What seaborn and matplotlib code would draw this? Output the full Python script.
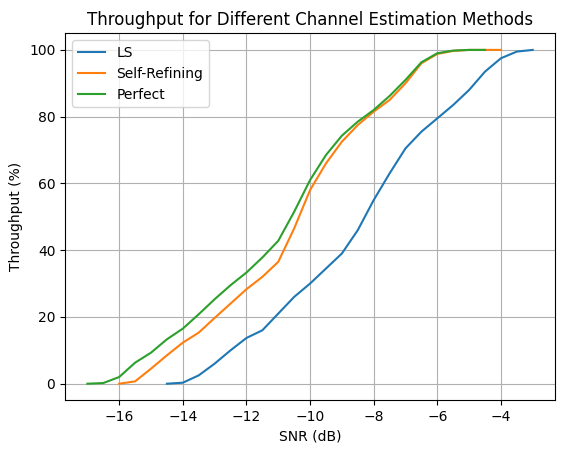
import matplotlib
matplotlib.use("Agg")
import matplotlib.pyplot as plt
import seaborn as sns
import numpy as np

ls_snr = [-14.5,-14,-13.5,-13,-12.5,-12,-11.5,-11,-10.5,-10,-9.5,-9,-8.5,-8,-7.5,-7,-6.5,-6,-5.5,-5,-4.5,-4,-3.5,-3]
ls_tp = [0,0.3,2.5,6,10,13.7,16,21,26,30,34.5,39,46,55,63,70.5,75.5,79.5,83.5,88,93.5,97.5,99.5,100]
sr_snr = [-16,-15.5,-15,-14.5,-14,-13.5,-13,-12.5,-12,-11.5,-11,-10.5,-10,-9.5,-9,-8.5,-8,-7.5,-7,-6.5,-6,-5.5,-5,-4.5,-4]
sr_tp = [0,0.7,4.5,8.5,12.3,15.3,19.7,24,28.3,32,36.5,46.5,58,66,72.5,77.5,81.5,85,90,96,98.8,99.7,100,100,100]
pf_snr = [-17,-16.5,-16,-15.5,-15,-14.5,-14,-13.5,-13,-12.5,-12,-11.5,-11,-10.5,-10,-9.5,-9,-8.5,-8,-7.5,-7,-6.5,-6,-5.5,-5,-4.5]
pf_tp = [0,0.2,2,6.3,9.3,13.3,16.5,20.8,25.3,29.5,33.3,37.8,42.8,51.5,61,68.5,74.3,78.5,82,86.2,91,96.3,99,99.8,100,100]

fig, ax = plt.subplots(figsize=(5.71, 4.55), dpi=100)
sns.lineplot(x=ls_snr, y=ls_tp, ax=ax, label="LS", color="#1f77b4")
sns.lineplot(x=sr_snr, y=sr_tp, ax=ax, label="Self-Refining", color="#ff7f0e")
sns.lineplot(x=pf_snr, y=pf_tp, ax=ax, label="Perfect", color="#2ca02c")
ax.set_xlabel("SNR (dB)")
ax.set_ylabel("Throughput (%)")
ax.set_title("Throughput for Different Channel Estimation Methods")
ax.grid(True)
ax.legend(loc="upper left")
fig.subplots_adjust(left=0.114, right=0.972, top=0.927, bottom=0.12)
fig.savefig("out.png", dpi=100)
